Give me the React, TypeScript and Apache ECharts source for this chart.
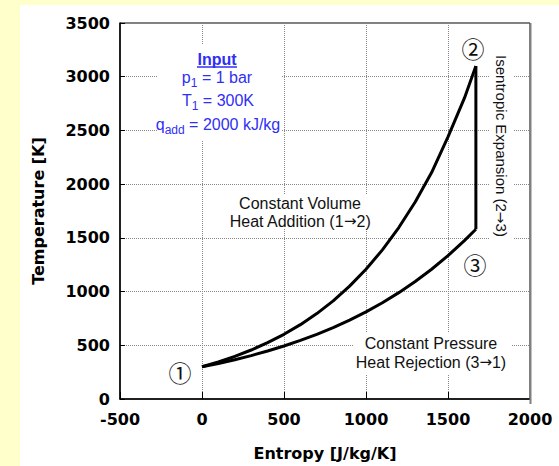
import React, { useEffect, useRef } from "react";
import * as echarts from "echarts";

// Constant volume heat addition (1 -> 2)
const entropyVol = [0, 100, 200, 300, 400, 500, 600, 700, 800, 900, 1000, 1100, 1200, 1300, 1400, 1500, 1600, 1670];
const tempVol = [300, 345, 396, 456, 524, 602, 692, 795, 914, 1051, 1208, 1388, 1596, 1834, 2108, 2440, 2800, 3100];

// Isentropic expansion (2 -> 3)
const entropyIse = [1670, 1670];
const tempIse = [3100, 1580];

// Constant pressure heat rejection (3 -> 1)
const entropyPres = [1670, 1600, 1500, 1400, 1300, 1200, 1100, 1000, 900, 800, 700, 600, 500, 400, 300, 200, 100, 0];
const tempPres = [1580, 1474, 1334, 1208, 1094, 990, 896, 811, 735, 665, 602, 545, 493, 447, 404, 366, 331, 300];

const xMin = -500;
const xMax = 2000;
const yMin = 0;
const yMax = 3500;
const tickStep = 500;

const xTitle = "Entropy [J/kg/K]";
const yTitle = "Temperature [K]";

const zip = (xs: number[], ys: number[]) => xs.map((x, i) => [x, ys[i]]);

const BLUE = "#2f2ff5";
const SANS = "'Liberation Sans', Arial, sans-serif";
const AXISFONT = "'DejaVu Sans', Verdana, sans-serif";
const ARROWFONT = "'DejaVu Sans', sans-serif";
const CIRCLEFONT = "'Noto Sans CJK JP', 'DejaVu Sans', sans-serif";

const MAIN_FONT = `16px ${SANS}`;
const SUB_FONT = `12px ${SANS}`;

export default function App() {
  const ref = useRef<HTMLDivElement>(null);

  useEffect(() => {
    if (!ref.current) return;
    const chart = echarts.init(ref.current, undefined, { renderer: "svg" });

    const ctx = document.createElement("canvas").getContext("2d")!;
    const measure = (t: string, font: string) => {
      ctx.font = font;
      return ctx.measureText(t).width;
    };

    const lineSeries = (name: string, data: number[][]) => ({
      name,
      type: "line",
      data,
      showSymbol: false,
      symbol: "none",
      lineStyle: { color: "#000", width: 3 },
      z: 5,
    });

    const txt = (text: string, x: number, y: number, extra: any = {}) => ({
      type: "text",
      x,
      y,
      z: 101,
      style: {
        text,
        fill: "#111",
        font: MAIN_FONT,
        align: "center",
        verticalAlign: "middle",
        ...extra,
      },
    });

    const arrowText = (before: string, after: string, x: number, y: number, size = 16, rotation = 0) => ({
      type: "text",
      x,
      y,
      rotation,
      z: 101,
      style: {
        text: `{t|${before}}{a|\u2192}{t|${after}}`,
        align: "center",
        verticalAlign: "middle",
        rich: {
          t: { fontSize: size, fontFamily: SANS, fill: "#111", color: "#111" },
          a: { fontSize: size - 1, fontFamily: ARROWFONT, fill: "#111", color: "#111" },
        },
      },
    });

    const whiteRect = (x: number, y: number, w: number, h: number) => ({
      type: "rect",
      z: 100,
      shape: { x, y, width: w, height: h },
      style: { fill: "#fff" },
    });

    // main letter + subscript + rest, centred on cx
    const subLine = (main: string, sub: string, rest: string, cx: number, cy: number) => {
      const w1 = measure(main, MAIN_FONT);
      const w2 = measure(sub, SUB_FONT);
      const w3 = measure(rest, MAIN_FONT);
      const x0 = cx - (w1 + w2 + w3) / 2;
      const base = { fill: BLUE, align: "left", verticalAlign: "middle" };
      return [
        { type: "text", x: x0, y: cy, z: 101, style: { ...base, text: main, font: MAIN_FONT } },
        { type: "text", x: x0 + w1, y: cy + 6, z: 101, style: { ...base, text: sub, font: SUB_FONT } },
        { type: "text", x: x0 + w1 + w2, y: cy, z: 101, style: { ...base, text: rest, font: MAIN_FONT } },
      ];
    };

    chart.setOption({
      animation: false,
      backgroundColor: "transparent",
      grid: {
        left: 120,
        top: 23,
        right: 29,
        bottom: 62,
        show: true,
        borderColor: "#000",
        borderWidth: 1,
        backgroundColor: "transparent",
      },
      xAxis: {
        type: "value",
        min: xMin,
        max: xMax,
        interval: tickStep,
        name: xTitle,
        nameLocation: "middle",
        nameGap: 46,
        nameTextStyle: { fontFamily: AXISFONT, fontWeight: "bold", fontSize: 16, color: "#000" },
        axisLine: { onZero: false, lineStyle: { color: "#000", width: 1.5 } },
        axisTick: { show: true, inside: true, length: 7, lineStyle: { color: "#000" } },
        axisLabel: {
          fontFamily: AXISFONT,
          fontWeight: "bold",
          fontSize: 16,
          color: "#000",
          margin: 12,
          formatter: (v: number) => String(v),
        },
        splitLine: { show: true, lineStyle: { color: "#888", type: [1, 1], width: 1 } },
      },
      yAxis: {
        type: "value",
        min: yMin,
        max: yMax,
        interval: tickStep,
        name: yTitle,
        nameLocation: "middle",
        nameRotate: 90,
        nameGap: 74,
        nameTextStyle: { fontFamily: AXISFONT, fontWeight: "bold", fontSize: 16, color: "#000" },
        axisLine: { onZero: false, lineStyle: { color: "#000", width: 1.5 } },
        axisTick: { show: true, inside: true, length: 5, lineStyle: { color: "#000" } },
        axisLabel: {
          fontFamily: AXISFONT,
          fontWeight: "bold",
          fontSize: 16,
          color: "#000",
          margin: 10,
          formatter: (v: number) => String(v),
        },
        splitLine: { show: true, lineStyle: { color: "#888", type: [1, 1], width: 1 } },
      },
      series: [
        lineSeries("Constant Volume", zip(entropyVol, tempVol)),
        lineSeries("Isentropic", zip(entropyIse, tempIse)),
        lineSeries("Constant Pressure", zip(entropyPres, tempPres)),
      ],
      graphic: [
        {
          type: "line",
          z: 99,
          shape: { x1: 530.5, y1: 23, x2: 530.5, y2: 404 },
          style: { stroke: "#808080", lineWidth: 2 },
        },
        whiteRect(157, 45, 124, 96),
        whiteRect(226, 194, 150, 35),
        whiteRect(353, 333, 158, 42),
        whiteRect(489, 50, 24, 192),
        // Input block
        txt("Input", 217, 59, { fill: BLUE, font: `bold 16px ${SANS}` }),
        {
          type: "line",
          z: 101,
          shape: { x1: 197, y1: 67, x2: 237, y2: 67 },
          style: { stroke: BLUE, lineWidth: 1.5 },
        },
        ...subLine("p", "1", " = 1 bar", 217, 77),
        ...subLine("T", "1", " = 300K", 218, 100),
        ...subLine("q", "add", " = 2000 kJ/kg", 218, 124),
        // Constant volume
        txt("Constant Volume", 300, 203),
        arrowText("Heat Addition (1", "2)", 300, 221),
        // Constant pressure
        txt("Constant Pressure", 431, 343),
        arrowText("Heat Rejection (3", "1)", 431, 362),
        // Isentropic (rotated)
        arrowText("Isentropic Expansion (2", "3)", 501, 146, 15, -Math.PI / 2),
        // State points
        txt("\u2460", 180, 372, { font: `23px ${CIRCLEFONT}` }),
        txt("\u2461", 473, 48, { font: `23px ${CIRCLEFONT}` }),
        txt("\u2462", 475, 264, { font: `23px ${CIRCLEFONT}` }),
      ],
    });

    return () => chart.dispose();
  }, []);

  return (
    <div
      style={{
        position: "fixed",
        left: 0,
        top: 0,
        width: 559,
        height: 466,
        background: "#FFFFCC",
        overflow: "hidden",
      }}
    >
      <div
        style={{
          position: "absolute",
          left: 20,
          top: 5,
          right: 0,
          bottom: 0,
          background: "#fff",
        }}
      />
      <div ref={ref} style={{ position: "absolute", left: 0, top: 0, width: 559, height: 466 }} />
    </div>
  );
}
